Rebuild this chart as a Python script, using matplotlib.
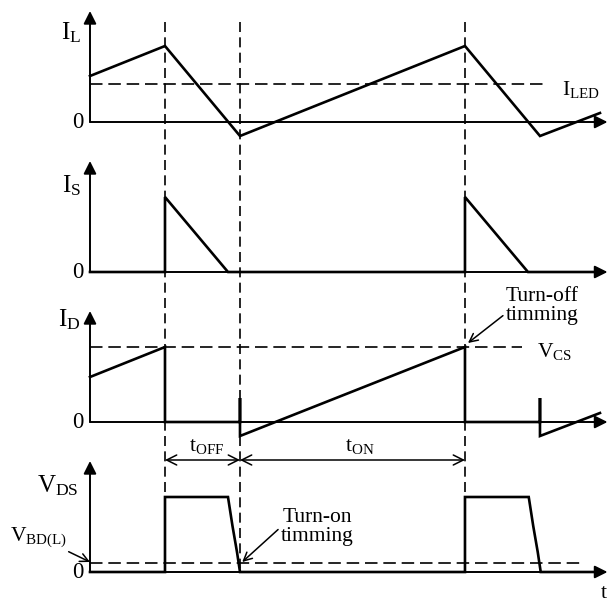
import numpy as np
import matplotlib
matplotlib.use("Agg")
import matplotlib.pyplot as plt

plt.rcParams['font.family'] = ['Liberation Serif', 'DejaVu Serif']
plt.rcParams['mathtext.fontset'] = 'custom'
plt.rcParams['mathtext.rm'] = 'Liberation Serif'
plt.rcParams['mathtext.it'] = 'Liberation Serif:italic'

# time axis: t_off = 1 unit, t_on = 3 units; switching edges at t = 0, 1, 4, 5
t_switch = [0.0, 1.0, 4.0]

# inductor current I_L
t_il = [-1.0, 0.0, 1.0, 4.0, 5.0, 5.8]
v_il = [4.6, 7.6, -1.4, 7.6, -1.4, 0.9]
i_led = 3.8

# switch current I_S
t_is = [-1.0, 0.0, 0.0, 0.84, 4.0, 4.0, 4.84, 5.8]
v_is = [0.0, 0.0, 7.5, 0.0, 0.0, 7.5, 0.0, 0.0]

# diode / sense current I_D
t_id = [-1.0, 0.0, 0.0, 1.0, 1.0, 1.0, 4.0, 4.0, 5.0, 5.0, 5.0, 5.8]
v_id = [4.5, 7.5, 0.0, 0.0, 2.4, -1.4, 7.5, 0.0, 0.0, 2.4, -1.4, 0.9]
v_cs = 7.5

# drain-source voltage V_DS
t_vds = [-1.0, 0.0, 0.0, 0.84, 0.9, 0.96, 1.0, 4.0, 4.0, 4.85, 4.91, 4.97, 5.01, 5.8]
v_vds = [0.0, 0.0, 7.5, 7.5, 4.6, 2.0, 0.0, 0.0, 7.5, 7.5, 4.6, 2.0, 0.0, 0.0]
v_bd = 0.9

# vertical offsets of the four rows (figure units of 10 px)
base = [47.9, 32.9, 17.9, 2.9]

fig = plt.figure(figsize=(6.11, 6.01), dpi=100)
ax = fig.add_axes([0, 0, 1, 1])
ax.set_xlim(-2.2, 5.947)
ax.set_ylim(0, 60.1)
ax.axis('off')

wave = dict(color='black', lw=1.9, solid_joinstyle='miter')
dash = dict(color='black', lw=1.2, ls=(0, (7.5, 3.5)))
arrow_head = dict(arrowstyle='-|>', color='black', lw=1.4, mutation_scale=19,
                  shrinkA=0, shrinkB=0)
fs = 18
fs_small = 15.5

# axes of every row
for b in base:
    ax.annotate('', xy=(-1.0, b + 11.1), xytext=(-1.0, b), arrowprops=arrow_head)
    ax.annotate('', xy=(5.9, b), xytext=(-1.0, b), arrowprops=arrow_head)
    ax.text(-1.08, b, '0', ha='right', va='center', fontsize=16.5)

# switching instants
for ts in t_switch:
    ax.plot([ts, ts], [base[0] + 10.0, base[3]], color='black', lw=1.2, ls=(0, (6, 3.2)))

# I_L
ax.plot(t_il, np.array(v_il) + base[0], **wave)
ax.plot([-1.0, 5.1], [base[0] + i_led] * 2, **dash)
ax.text(-1.12, base[0] + 8.9, r'$\mathrm{I_L}$', ha='right', va='center', fontsize=fs)
ax.text(5.3, base[0] + 3.3, r'$\mathrm{I_{LED}}$', ha='left', va='center', fontsize=fs_small)

# I_S
ax.plot(t_is, np.array(v_is) + base[1], **wave)
ax.text(-1.12, base[1] + 8.6, r'$\mathrm{I_S}$', ha='right', va='center', fontsize=fs)

# I_D
ax.plot(t_id, np.array(v_id) + base[2], **wave)
ax.plot([-1.0, 4.76], [base[2] + v_cs] * 2, **dash)
ax.text(-1.12, base[2] + 10.2, r'$\mathrm{I_D}$', ha='right', va='center', fontsize=fs)
ax.text(4.96, base[2] + 7.0, r'$\mathrm{V_{CS}}$', ha='left', va='center', fontsize=fs_small)
ax.annotate('Turn-off\ntimming', xy=(4.04, base[2] + 7.9), xytext=(5.03, base[2] + 11.6),
            ha='center', va='center', fontsize=fs_small, linespacing=0.95,
            arrowprops=dict(arrowstyle='->', color='black', lw=1.1,
                            shrinkA=0, shrinkB=0, relpos=(0.0, 0.3), mutation_scale=15))

# t_OFF / t_ON intervals
ax.annotate('', xy=(0.0, base[2] - 3.8), xytext=(1.0, base[2] - 3.8),
            arrowprops=dict(arrowstyle='<->', color='black', lw=1.1, shrinkA=0, shrinkB=0,
                            mutation_scale=18))
ax.annotate('', xy=(1.0, base[2] - 3.8), xytext=(4.0, base[2] - 3.8),
            arrowprops=dict(arrowstyle='<->', color='black', lw=1.1, shrinkA=0, shrinkB=0,
                            mutation_scale=18))
ax.text(0.56, base[2] - 2.4, r'$\mathrm{t_{OFF}}$', ha='center', va='center', fontsize=fs_small)
ax.text(2.6, base[2] - 2.4, r'$\mathrm{t_{ON}}$', ha='center', va='center', fontsize=fs_small)

# V_DS
ax.plot(t_vds, np.array(v_vds) + base[3], **wave)
ax.plot([-1.0, 5.56], [base[3] + v_bd] * 2, **dash)
ax.text(-1.15, base[3] + 8.6, r'$\mathrm{V_{DS}}$', ha='right', va='center', fontsize=fs)
ax.annotate(r'$\mathrm{V_{BD(L)}}$', xy=(-1.0, base[3] + 1.0), xytext=(-1.31, base[3] + 3.5),
            ha='right', va='center', fontsize=fs_small,
            arrowprops=dict(arrowstyle='->', color='black', lw=1.1, shrinkA=0, shrinkB=0,
                            mutation_scale=15))
ax.annotate('Turn-on\ntimming', xy=(1.03, base[3] + 1.0), xytext=(2.03, base[3] + 4.5),
            ha='center', va='center', fontsize=fs_small, linespacing=0.95,
            arrowprops=dict(arrowstyle='->', color='black', lw=1.1,
                            shrinkA=0, shrinkB=0, relpos=(0.0, 0.5), mutation_scale=15))
ax.text(5.85, base[3] - 2.1, 't', ha='center', va='center', fontsize=fs_small)

fig.savefig('out.png', dpi=100)
